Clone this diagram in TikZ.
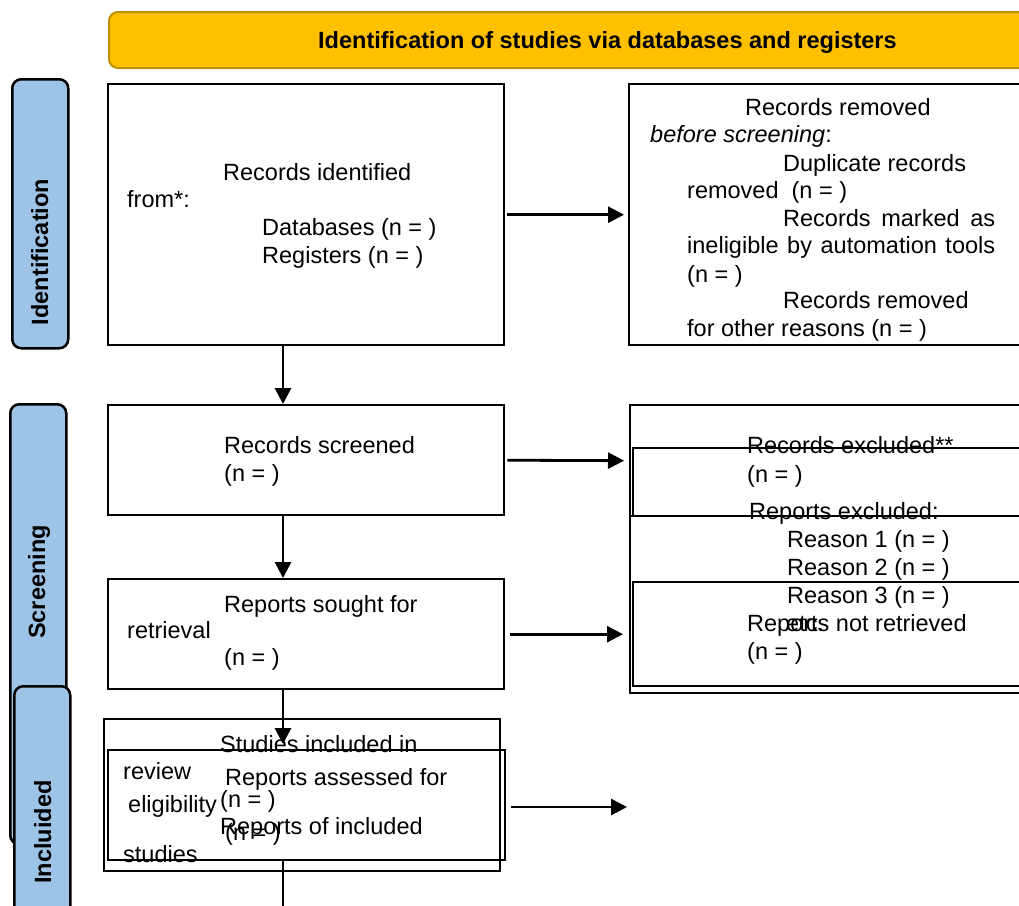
\documentclass[tikz,border=0pt]{standalone}
\usepackage{fontspec}
\setmainfont{Liberation Sans}
\usetikzlibrary{arrows.meta}
\definecolor{hdr}{HTML}{FFC000}
\definecolor{hdrb}{HTML}{BF9000}
\definecolor{side}{HTML}{9DC3E6}
\tikzset{
  boxn/.style={draw=black, line width=2.4pt, rectangle, inner sep=0pt, anchor=north west},
  txt/.style={anchor=base west, inner sep=0pt, font=\fontsize{23.5}{27.6}\selectfont},
  sidebar/.style={draw=black, line width=2.5pt, fill=side, rounded corners=9pt, rectangle, inner sep=0pt, anchor=north west},
  sidelab/.style={rotate=90, anchor=base, inner sep=0pt, font=\fontsize{23.5}{27}\selectfont\bfseries},
  arr/.style={line width=2.8pt, -{Triangle[length=16pt,width=16pt]}},
  ln/.style={line width=2.8pt}
}
\begin{document}
\begin{tikzpicture}[x=1pt,y=-1pt]
\useasboundingbox (0,0) rectangle (1019,905);
\fill[white] (0,0) rectangle (1019,905);

% header
\node[rectangle, anchor=north west, draw=hdrb, fill=hdr, line width=2pt, rounded corners=9pt,
      minimum width=930pt, minimum height=56pt, inner sep=0pt] (hdr) at (108,11) {};
\node[txt, font=\fontsize{23.5}{27.6}\selectfont\bfseries] (hdrt) at (318,48) {Identification of studies via databases and registers};

% side bars
\node[sidebar, minimum width=56pt, minimum height=269pt] (sbid) at (11,78) {};
\node[sidelab] (sbidt) at (48,252) {Identification};
\node[sidebar, minimum width=56pt, minimum height=440pt] (sbsc) at (9,403) {};
\node[sidelab] (sbsct) at (45,582) {Screening};
\node[sidebar, minimum width=56pt, minimum height=260pt] (sbin) at (13,685) {};
\node[sidelab] (sbint) at (51,832) {Incluided};

% left boxes
\node[boxn, minimum width=396pt, minimum height=261pt] (b1) at (107,83) {};
\node[boxn, minimum width=396pt, minimum height=110pt] (b2) at (107,404) {};
\node[boxn, minimum width=396pt, minimum height=110pt] (b3) at (107,578) {};
\node[boxn, minimum width=396pt, minimum height=152pt] (bsi) at (103,718) {};
\node[boxn, minimum width=397pt, minimum height=110pt] (bra) at (107,749) {};

% right boxes
\node[boxn, minimum width=400pt, minimum height=261pt] (rr1) at (628,83) {};
\node[boxn, minimum width=400pt, minimum height=111pt] (ra) at (629,404) {};
\node[boxn, minimum width=400pt, minimum height=68pt] (rb) at (632,447) {};
\node[boxn, minimum width=400pt, minimum height=177pt] (rc) at (629,515) {};
\node[boxn, minimum width=400pt, minimum height=104pt] (rd) at (632,581) {};

% texts box 1
\node[txt] (t11) at (223,180) {Records identified};
\node[txt] (t12) at (127,207) {from*:};
\node[txt] (t13) at (262,235) {Databases (n = )};
\node[txt] (t14) at (262,263) {Registers (n = )};

% texts right box 1
\node[txt] (r11) at (745,115) {Records removed};
\node[txt] (r12) at (650,142) {\textit{before screening}:};
\node[txt] (r13) at (783,171) {Duplicate records};
\node[txt] (r14) at (687,198) {removed~~(n = )};
\node[txt] (r15) at (783,226) {\makebox[212pt][s]{Records marked as}};
\node[txt] (r16) at (687,253) {\makebox[308pt][s]{ineligible by automation tools}};
\node[txt] (r17) at (687,282) {(n = )};
\node[txt] (r18) at (783,308) {Records removed};
\node[txt] (r19) at (687,336) {for other reasons (n = )};

% screening right texts
\node[txt] (s1) at (747,453) {Records excluded**};
\node[txt] (s2) at (747,482) {(n = )};
\node[txt] (s3) at (749,519) {Reports excluded:};
\node[txt] (s4) at (787,547) {Reason 1 (n = )};
\node[txt] (s5) at (787,575) {Reason 2 (n = )};
\node[txt] (s6) at (787,603) {Reason 3 (n = )};
\node[txt] (s7) at (786,631) {etc.};
\node[txt] (s8) at (747,631) {Reports not retrieved};
\node[txt] (s9) at (747,659) {(n = )};

% box 2 and 3 texts
\node[txt] (t21) at (224,453) {Records screened};
\node[txt] (t22) at (224,481) {(n = )};
\node[txt] (t31) at (224,612) {Reports sought for};
\node[txt] (t32) at (127,638) {retrieval};
\node[txt] (t33) at (224,665) {(n = )};

% bottom texts
\node[txt] (u1) at (220,752) {Studies included in};
\node[txt] (u2) at (123,779) {review};
\node[txt] (u3) at (220,807) {(n = )};
\node[txt] (u4) at (220,834) {Reports of included};
\node[txt] (u5) at (123,862) {studies};
\node[txt] (v1) at (225,785) {Reports assessed for};
\node[txt] (v2) at (128,812) {eligibility};
\node[txt] (v3) at (225,840) {(n = )};

% connectors
\coordinate (xa) at (283,0);
\coordinate (cend) at (627,807);
\coordinate (cbot) at (283,915);
\draw[arr, shorten >=4pt, shorten <=2pt] (b1.east) -- (rr1.west);
\draw[arr] (b1.south -| xa) -- (b2.north -| xa);
\draw[arr, shorten >=5pt, shorten <=2pt] (b2.east) -- (ra.west);
\draw[arr] (b2.south -| xa) -- (b3.north -| xa);
\draw[arr, shorten >=9pt, shorten <=5pt] (b3.east) -- (rd.west);
\draw[arr, shorten >=5pt] (b3.south -| xa) -- (bra.north -| xa);
\draw[arr, shorten <=5pt] (bra.east |- cend) -- (cend);
\draw[ln] (bra.south -| xa) -- (cbot);
\end{tikzpicture}
\end{document}
